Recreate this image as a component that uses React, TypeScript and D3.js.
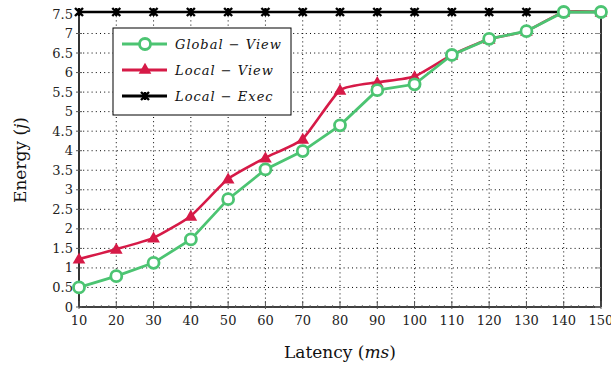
import React from "react";
import * as d3 from "d3";

const latency = [10, 20, 30, 40, 50, 60, 70, 80, 90, 100, 110, 120, 130, 140, 150];
const globalView = [0.5, 0.79, 1.13, 1.73, 2.76, 3.52, 3.99, 4.65, 5.55, 5.7, 6.45, 6.86, 7.06, 7.55, 7.55];
const localView = [1.23, 1.48, 1.77, 2.33, 3.28, 3.82, 4.3, 5.55, 5.75, 5.9, 6.45, 6.86, 7.06, 7.55, 7.55];
const localExec = [7.55, 7.55, 7.55, 7.55, 7.55, 7.55, 7.55, 7.55, 7.55, 7.55, 7.55, 7.55, 7.55, 7.55, 7.55];
const yTicks = [0, 0.5, 1, 1.5, 2, 2.5, 3, 3.5, 4, 4.5, 5, 5.5, 6, 6.5, 7, 7.5];
const legendLabels = ["Global − View", "Local − View", "Local − Exec"];

const GREEN = "#4cc472";
const RED = "#d61a47";
const BLACK = "#000";

export default function App() {
  const W = 611, H = 367;
  const x = d3.scaleLinear().domain([10, 150]).range([79, 601]);
  const y = d3.scaleLinear().domain([0, 7.55]).range([307, 12]);
  const lin = d3.line<number>().x((_, i) => x(latency[i])).y((d) => y(d));
  const smooth = d3.line<number>().x((_, i) => x(latency[i])).y((d) => y(d)).curve(d3.curveCardinal.tension(0.5));
  const font = "'DejaVu Serif', 'Liberation Serif', serif";
  const tri = d3.symbol().type(d3.symbolTriangle).size(70)()!;
  const cross = (cx: number, cy: number, k: string) => (
    <path key={k} d={`M${cx - 4},${cy - 4}L${cx + 4},${cy + 4}M${cx - 4},${cy + 4}L${cx + 4},${cy - 4}M${cx},${cy - 4}L${cx},${cy + 4}`} stroke={BLACK} strokeWidth={2.4} />
  );
  const circ = (cx: number, cy: number, k: string) => (
    <circle key={k} cx={cx} cy={cy} r={5.5} fill="#fff" stroke={GREEN} strokeWidth={2.8} />
  );
  const triM = (cx: number, cy: number, k: string) => (
    <path key={k} d={tri} transform={`translate(${cx},${cy + 1})`} fill={RED} />
  );
  const y0 = y(0), yTop = y(7.55);
  return (
    <svg width={W} height={H} style={{ position: "absolute", left: 0, top: 0, background: "#fff" }}>
      {/* grid */}
      {yTicks.filter((t) => t > 0 && t < 7.5).map((t) => (
        <line key={"gy" + t} x1={x(10)} x2={x(150)} y1={y(t)} y2={y(t)} stroke="#000" strokeWidth={1} strokeDasharray="1,3.2" />
      ))}
      {latency.filter((v) => v > 10 && v < 150).map((v) => (
        <line key={"gx" + v} x1={x(v)} x2={x(v)} y1={y0} y2={yTop} stroke="#000" strokeWidth={1} strokeDasharray="1,3.2" />
      ))}
      {/* axes */}
      <line x1={x(10)} x2={x(10)} y1={y0} y2={yTop} stroke="#000" strokeWidth={1.6} />
      <line x1={x(150)} x2={x(150)} y1={y0} y2={yTop} stroke="#000" strokeWidth={1.6} />
      <line x1={x(10)} x2={x(150)} y1={y0} y2={y0} stroke="#000" strokeWidth={1.6} />
      {yTicks.map((t) => (
        <g key={"yt" + t}>
          <line x1={x(10) - 3} x2={x(10) + 3} y1={y(t)} y2={y(t)} stroke="#555" strokeWidth={1} />
          <line x1={x(150) - 6} x2={x(150)} y1={y(t)} y2={y(t)} stroke="#888" strokeWidth={1} />
          <text x={x(10) - 6} y={y(t)} dy="0.35em" textAnchor="end" fontFamily={font} fontSize={13} fill="#222">{t}</text>
        </g>
      ))}
      {latency.map((v) => (
        <g key={"xt" + v}>
          <line x1={x(v)} x2={x(v)} y1={y0 - 6} y2={y0 + 2} stroke="#555" strokeWidth={1} />
          <text x={x(v)} y={y0 + 18} textAnchor="middle" fontFamily={font} fontSize={13} fill="#222">{v}</text>
        </g>
      ))}
      {d3.range(12, 150, 2).filter((v) => v % 10 !== 0).map((v) => (
        <line key={"mx" + v} x1={x(v)} x2={x(v)} y1={y0 - 2} y2={y0 + 1} stroke="#555" strokeWidth={0.8} />
      ))}
      {/* series */}
      <path d={lin(localExec)!} fill="none" stroke={BLACK} strokeWidth={2.6} />
      {localExec.map((v, i) => cross(x(latency[i]), y(v), "c" + i))}
      <path d={smooth(localView)!} fill="none" stroke={RED} strokeWidth={2.6} />
      {localView.map((v, i) => triM(x(latency[i]), y(v), "t" + i))}
      <path d={lin(globalView)!} fill="none" stroke={GREEN} strokeWidth={2.8} />
      {globalView.map((v, i) => circ(x(latency[i]), y(v), "o" + i))}
      {/* legend */}
      <rect x={113} y={28} width={178} height={87} fill="#fff" stroke="#000" strokeWidth={1} />
      {legendLabels.map((lab, i) => {
        const ly = 44 + i * 26;
        const col = [GREEN, RED, BLACK][i];
        return (
          <g key={"lg" + i}>
            <line x1={122} x2={167} y1={ly} y2={ly} stroke={col} strokeWidth={2.8} />
            {i === 0 ? circ(145, ly, "lc") : i === 1 ? triM(145, ly - 1, "lt") : cross(145, ly, "lx")}
            <text x={175} y={ly} dy="0.35em" fontFamily={font} fontStyle="italic" fontSize={13} letterSpacing={1} fill="#111">{lab}</text>
          </g>
        );
      })}
      {/* axis labels */}
      <text x={340} y={358} textAnchor="middle" fontFamily={font} fontSize={17} fill="#111">
        Latency (<tspan fontStyle="italic">ms</tspan>)
      </text>
      <text transform={`translate(26,160) rotate(-90)`} textAnchor="middle" fontFamily={font} fontSize={17} fill="#111">
        Energy (<tspan fontStyle="italic">j</tspan>)
      </text>
    </svg>
  );
}
